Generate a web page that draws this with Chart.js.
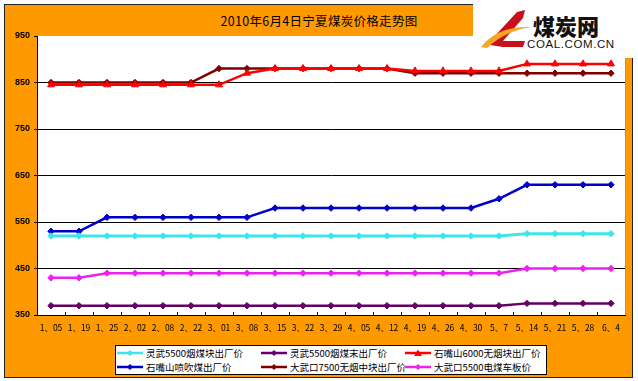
<!DOCTYPE html>
<html><head><meta charset="utf-8">
<script src="https://cdn.jsdelivr.net/npm/chart.js@4/dist/chart.umd.min.js"></script>
<style>
html,body{margin:0;padding:0;background:#fff;}
#wrap{position:relative;width:638px;height:381px;overflow:hidden;font-family:"Noto Sans CJK SC","DejaVu Sans",sans-serif;}
#frame{position:absolute;left:4px;top:4px;width:627px;height:372px;background:#FF9900;border:1px solid #222;}
#logo{position:absolute;left:473px;top:0;width:165px;height:58px;background:#fff;z-index:3;}
#title{position:absolute;left:0;width:638px;top:11px;text-align:center;font-size:12.5px;color:#000;letter-spacing:0.3px;}
#c{position:absolute;left:0;top:0;}
#legend{position:absolute;left:115px;top:345px;width:430px;height:28px;background:#fff;border:1px solid #000;}
.li{position:absolute;font-size:9.5px;line-height:12px;color:#000;white-space:nowrap;}
.li svg{position:absolute;left:0;top:0;}
.li span{position:absolute;top:0;}
</style></head>
<body><div id="wrap">
<div id="frame"></div>
<div id="title">2010年6月4日宁夏煤炭价格走势图</div>
<canvas id="c" width="638" height="381"></canvas>
<div id="logo">
<svg width="165" height="58" style="position:absolute;left:0;top:0">
<path d="M52 10 L44 12 L20 38 L17 45 L30 47 L50 47 L52 41 L30 41 L50 18 Z" fill="#c8101a"/>
<path d="M8 47 Q24 26 58 27 Q32 31 14 48 Z" fill="#f5a623"/>
<text x="60" y="35" font-family="Noto Sans CJK SC" font-weight="900" font-size="22" fill="#111">煤炭网</text>
<text x="54" y="48" font-family="Liberation Sans" font-size="11.5" fill="#111" letter-spacing="0.6">COAL.COM.CN</text>
</svg>
</div>
<div id="legend"></div>
</div>
<script>
const categories = ['1、05','1、19','1、25','2、02','2、08','2、22','3、01','3、08','3、15','3、22','3、29','4、05','4、12','4、19','4、26','4、30','5、7','5、14','5、21','5、28','6、4'];
const seriesNames = ['灵武5500烟煤块出厂价','灵武5500烟煤末出厂价','石嘴山6000无烟块出厂价','石嘴山喷吹煤出厂价','大武口7500无烟中块出厂价','大武口5500电煤车板价'];
const lingwuLump  = [520,520,520,520,520,520,520,520,520,520,520,520,520,520,520,520,520,525,525,525,525];
const lingwuFines = [370,370,370,370,370,370,370,370,370,370,370,370,370,370,370,370,370,375,375,375,375];
const shizuishan6000 = [845,845,845,845,845,845,845,870,880,880,880,880,880,875,875,875,875,890,890,890,890];
const shizuishanPCI  = [530,530,560,560,560,560,560,560,580,580,580,580,580,580,580,580,600,630,630,630,630];
const dawukou7500 = [850,850,850,850,850,850,880,880,880,880,880,880,880,870,870,870,870,870,870,870,870];
const dawukou5500 = [430,430,440,440,440,440,440,440,440,440,440,440,440,440,440,440,440,450,450,450,450];
const yMin = 350, yMax = 950, yStep = 100;

const colors = ['#3DE6E6','#660066','#FF0000','#0000CC','#800000','#EE22EE'];
const styles = ['rectRot','rectRot','triangle','rectRot','rectRot','rectRot'];
const widths = [3,2.5,2.5,2.5,2.5,2.5];
const values = [lingwuLump,lingwuFines,shizuishan6000,shizuishanPCI,dawukou7500,dawukou5500];

const datasets = values.map((v,i)=>({
  label: seriesNames[i], data: v,
  borderColor: colors[i], backgroundColor: colors[i],
  borderWidth: widths[i], pointStyle: styles[i],
  pointRadius: styles[i]==='triangle'?4:3.2, pointBorderWidth: 1,
  pointBackgroundColor: colors[i], pointBorderColor: colors[i],
  tension: 0, fill: false
}));

const plotBg = {
  id:'plotBg',
  beforeDraw(chart){
    const {ctx, chartArea:a} = chart;
    ctx.save(); ctx.fillStyle='#fff';
    ctx.fillRect(a.left, a.top, a.right-a.left, a.bottom-a.top);
    ctx.restore();
  },
  afterDraw(chart){
    const {ctx, chartArea:a} = chart; const x = chart.scales.x;
    ctx.save(); ctx.strokeStyle='#000'; ctx.lineWidth=1;
    const n = categories.length;
    const half = (x.getPixelForValue(1)-x.getPixelForValue(0))/2;
    for(let i=0;i<=n;i++){
      const px = Math.round(x.getPixelForValue(Math.min(i,n-1)) + (i<n?-half:half))+0.5;
      ctx.beginPath(); ctx.moveTo(px,a.bottom); ctx.lineTo(px,a.bottom-3); ctx.stroke();
    }
    ctx.strokeStyle='#999';
    ctx.beginPath(); ctx.moveTo(a.right+0.5,a.top); ctx.lineTo(a.right+0.5,a.bottom); ctx.stroke();
    ctx.restore();
  }
};

new Chart(document.getElementById('c'), {
  type:'line',
  data:{labels:categories, datasets},
  options:{
    responsive:false, animation:false,
    layout:{padding:{top:36,right:13,left:0,bottom:0}},
    plugins:{legend:{display:false}, title:{display:false}, tooltip:{enabled:false}},
    scales:{
      x:{
        type:'category', offset:true,
        grid:{display:false, drawTicks:false},
        border:{display:true,color:'#000',width:1},
        ticks:{autoSkip:false,maxRotation:0,minRotation:0,padding:8,color:'#000',
          font:{family:'"Noto Sans CJK SC"',size:8.5}},
        afterFit(s){ s.height = 66; }
      },
      y:{
        min:yMin,max:yMax,
        ticks:{stepSize:yStep,color:'#000',padding:4,font:{family:'"Liberation Sans"',size:9,weight:'bold'}},
        grid:{color:(c)=> c.tick && c.tick.value===yMax ? 'rgba(0,0,0,0)' : '#000', tickColor:'#000', tickLength:3, lineWidth:1},
        border:{display:true,color:'#000',width:1},
        afterFit(s){ s.width = 37; }
      }
    }
  },
  plugins:[plotBg]
});

// legend built from datasets
const leg = document.getElementById('legend');
const colX = [1,145,289];
datasets.forEach((d,i)=>{
  const r = Math.floor(i/3), c = i%3;
  const el = document.createElement('div');
  el.className='li';
  el.style.left = colX[c]+'px'; el.style.top = (1+r*14)+'px';
  const mk = d.pointStyle==='triangle'
    ? `<polygon points="13,2.5 17,9 9,9" fill="${d.borderColor}"/>`
    : `<polygon points="13,3 16,6 13,9 10,6" fill="${d.borderColor}"/>`;
  el.innerHTML = `<svg width="27" height="12"><line x1="0" y1="6" x2="26" y2="6" stroke="${d.borderColor}" stroke-width="2.5"/>${mk}</svg><span style="left:29px">${d.label}</span>`;
  leg.appendChild(el);
});
</script>
</body></html>
